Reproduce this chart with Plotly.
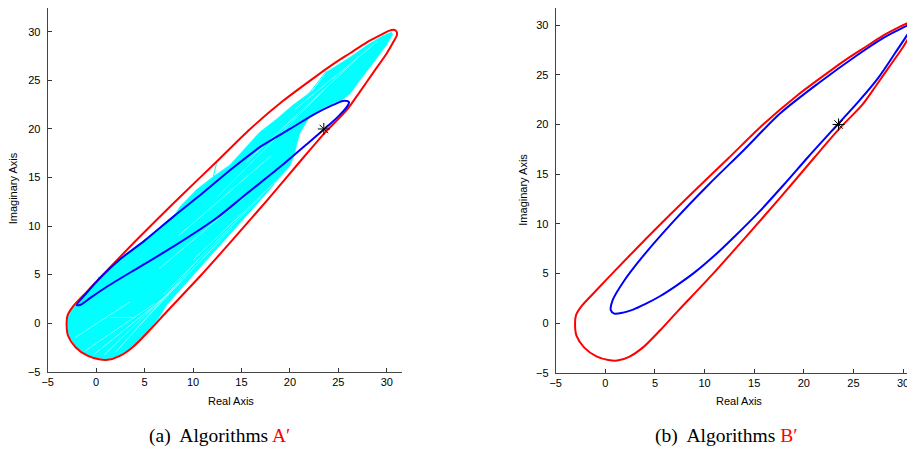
import plotly.graph_objects as go

# ---------------- data ----------------
tick_vals = [-5, 0, 5, 10, 15, 20, 25, 30]

# red boundary curve (same in both panels), closed
red_x = [14.1, 17.6, 21.0, 23.6, 25.9, 27.2, 28.6, 30.0, 30.7, 31.05, 31.0, 30.8,
         30.2, 29.6, 27.9, 26.2, 24.5, 22.8, 19.3, 15.9, 12.4, 8.65, 4.5, 1.0, -1.0,
         -2.4, -2.95, -3.05, -2.9, -2.1, -0.9, 0.3, 1.2, 2.4, 3.8, 5.5, 7.3, 10.7, 14.1]
red_y = [8.6, 12.6, 16.6, 19.6, 22.0, 23.8, 25.8, 27.8, 29.0, 29.7, 30.05, 30.2,
         30.1, 29.8, 28.9, 27.8, 26.7, 25.5, 22.9, 20.0, 16.6, 13.0, 8.9, 5.3, 3.2,
         1.7, 0.8, 0.0, -1.3, -2.5, -3.35, -3.72, -3.78, -3.4, -2.45, -0.75, 1.2, 4.8, 8.6]

# blue curve, panel (a)
blueA_x = [15.5, 19.0, 21.7, 23.5, 25.0, 25.9, 26.1, 25.6, 24.5, 22.5, 20.0, 17.0,
           14.0, 11.0, 8.0, 5.0, 2.5, 0.5, -1.0, -2.0, -1.6, -0.6, 1.1, 4.5, 8.0,
           12.4, 15.5]
blueA_y = [13.3, 16.1, 18.4, 19.95, 21.3, 22.3, 22.75, 22.9, 22.5, 21.5, 20.0, 18.2,
           15.9, 13.4, 11.0, 8.5, 6.6, 4.75, 3.1, 1.87, 1.9, 2.6, 3.75, 5.8, 7.9,
           10.8, 13.3]

# blue curve, panel (b)
blueB_x = [15.5, 18.0, 20.5, 23.5, 25.5, 27.5, 29.2, 30.3, 30.9, 30.6, 29.7, 27.9,
           25.4, 21.4, 17.6, 13.94, 10.37, 6.91, 3.61, 1.78, 0.73, 0.55, 0.9, 1.8,
           2.8, 4.0, 5.5, 7.2, 9.0, 11.0, 13.0, 15.5]
blueB_y = [11.2, 13.95, 16.8, 20.1, 22.3, 24.7, 27.2, 28.85, 29.88, 30.0, 29.6, 28.65,
           27.0, 24.1, 21.1, 17.41, 13.91, 10.29, 6.51, 4.09, 2.29, 1.3, 0.95, 1.05,
           1.35, 1.9, 2.7, 3.8, 5.1, 6.8, 8.7, 11.2]

# cyan region (many trajectories) in panel (a)
cyan_x = [-2.0, -2.5, -2.95, -3.0, -2.85, -2.05, -0.9, 0.3, 1.2, 2.4, 3.8, 5.5,
          6.5, 7.3, 10.7, 14.1, 17.6, 20.0, 20.4, 21.0, 22.0, 23.5, 25.4, 26.2,
          27.2, 28.6, 30.0, 30.6, 30.5, 29.6, 27.9, 26.2, 24.5, 23.8, 22.4, 20.35,
          18.6, 16.9, 13.8, 12.1, 10.4, 8.65, 8.0, 5.0, 2.5, 0.5, -1.0, -2.0]
cyan_y = [1.87, 1.6, 0.8, 0.0, -1.3, -2.45, -3.3, -3.65, -3.7, -3.35, -2.4, -0.7,
          0.6, 1.9, 5.7, 9.5, 13.4, 16.2, 17.2, 19.5, 21.2, 22.2, 23.0, 23.6,
          25.0, 26.8, 28.7, 29.7, 30.0, 29.6, 28.6, 27.4, 26.3, 25.9, 24.0, 22.5,
          21.0, 19.7, 16.3, 15.1, 13.8, 12.0, 11.0, 8.5, 6.6, 4.75, 3.1, 1.87]

# stray cyan trajectories
spike_x = [[12.1, 12.45], [21.7, 23.8], [2.46, 4.18], [0.22, 0.4]]
spike_y = [[15.1, 16.6], [23.3, 26.0], [6.78, 6.78], [4.78, 3.75]]

# thin uncovered streaks inside the cyan bundle
gap_x = [[-1.2, 6.0], [-0.2, 7.5], [0.8, 9.0], [-2.2, 3.5], [2.0, 10.5],
         [4.5, 14.0], [7.0, 17.0], [10.0, 19.5], [1.5, 4.0],
         [8.5, 18.0], [12.5, 23.5], [15.5, 27.0], [20.5, 29.0], [6.5, 15.5]]
gap_y = [[-2.9, 2.0], [-3.2, 3.0], [-3.3, 4.6], [-1.5, 2.2], [-3.0, 6.5],
         [-0.2, 9.8], [3.0, 13.0], [6.5, 15.5], [0.6, 0.6],
         [9.0, 17.2], [13.0, 24.0], [16.6, 27.3], [22.0, 29.0], [5.6, 13.2]]

star_x = [23.5]
star_y = [20.0]

RED = "#ff0000"
BLUE = "#0000ff"
CYAN = "#00ffff"

fig = go.Figure()

# ---- panel (a)
fig.add_trace(go.Scatter(x=cyan_x, y=cyan_y, mode="lines", fill="toself",
                         fillcolor=CYAN, line=dict(color=CYAN, width=0.5),
                         xaxis="x", yaxis="y", hoverinfo="skip"))
for gx, gy in zip(gap_x, gap_y):
    fig.add_trace(go.Scatter(x=gx, y=gy, mode="lines", line=dict(color="white", width=0.6),
                             opacity=0.8, xaxis="x", yaxis="y", hoverinfo="skip"))
for sx, sy in zip(spike_x, spike_y):
    fig.add_trace(go.Scatter(x=sx, y=sy, mode="lines", line=dict(color=CYAN, width=1),
                             xaxis="x", yaxis="y", hoverinfo="skip"))
fig.add_trace(go.Scatter(x=red_x, y=red_y, mode="lines",
                         line=dict(color=RED, width=2, shape="spline", smoothing=0.8),
                         xaxis="x", yaxis="y"))
fig.add_trace(go.Scatter(x=blueA_x, y=blueA_y, mode="lines",
                         line=dict(color=BLUE, width=2, shape="spline", smoothing=0.8),
                         xaxis="x", yaxis="y"))
fig.add_trace(go.Scatter(x=star_x, y=star_y, mode="markers",
                         marker=dict(symbol="asterisk-open", size=10, color="black",
                                     line=dict(color="black", width=1)),
                         xaxis="x", yaxis="y"))

# ---- panel (b)
fig.add_trace(go.Scatter(x=red_x, y=red_y, mode="lines",
                         line=dict(color=RED, width=2, shape="spline", smoothing=0.8),
                         xaxis="x2", yaxis="y2"))
fig.add_trace(go.Scatter(x=blueB_x, y=blueB_y, mode="lines",
                         line=dict(color=BLUE, width=2, shape="spline", smoothing=0.8),
                         xaxis="x2", yaxis="y2"))
fig.add_trace(go.Scatter(x=star_x, y=star_y, mode="markers",
                         marker=dict(symbol="asterisk-open", size=10, color="black",
                                     line=dict(color="black", width=1)),
                         xaxis="x2", yaxis="y2"))

tickfont = dict(family="Liberation Sans, Arial, sans-serif", size=11, color="black")
axis_common = dict(tickmode="array", tickvals=tick_vals, ticks="inside", ticklen=4,
                   tickcolor="#333", showline=True, linecolor="#444", linewidth=1,
                   showgrid=False, zeroline=False, tickfont=tickfont, mirror=False,
                   automargin=False)

# the page body adds an 8px offset, so the figure is laid out 8px smaller
fig.update_layout(
    width=907, height=456, margin=dict(l=0, r=0, t=0, b=0, autoexpand=False),
    paper_bgcolor="white", plot_bgcolor="white", showlegend=False,
    xaxis=dict(domain=[0.04377, 0.43473], range=[-5, 31.6], anchor="y", **axis_common),
    yaxis=dict(domain=[0.20241, 1.0], range=[-5, 32.46], anchor="x", ticklabelstandoff=4, **axis_common),
    xaxis2=dict(domain=[0.60386, 0.9989], range=[-5, 31.1], anchor="y2", **axis_common),
    yaxis2=dict(domain=[0.20022, 1.0], range=[-5, 31.73], anchor="x2", ticklabelstandoff=4, **axis_common),
)

lab_font = dict(family="Liberation Sans, Arial, sans-serif", size=11, color="black")
cap_font = dict(family="Liberation Serif, Times New Roman, serif", size=19.5, color="black")
ann = [
    dict(text="Real Axis", x=0.24587, y=0.13816, font=lab_font),
    dict(text="Imaginary Axis", x=0.00584, y=0.60526, textangle=-90, font=lab_font),
    dict(text="Real Axis", x=0.80595, y=0.13816, font=lab_font),
    dict(text="Imaginary Axis", x=0.56747, y=0.60088, textangle=-90, font=lab_font),
    dict(text="(a)  Algorithms <span style='color:#ff0000'>A\u2032</span>", x=0.23264, y=0.0614, font=cap_font),
    dict(text="(b)  Algorithms <span style='color:#ff0000'>B\u2032</span>", x=0.79162, y=0.0614, font=cap_font),
]
for a in ann:
    a.update(xref="paper", yref="paper", showarrow=False, xanchor="center", yanchor="middle")
    fig.add_annotation(**a)

fig.write_html("out.html")
